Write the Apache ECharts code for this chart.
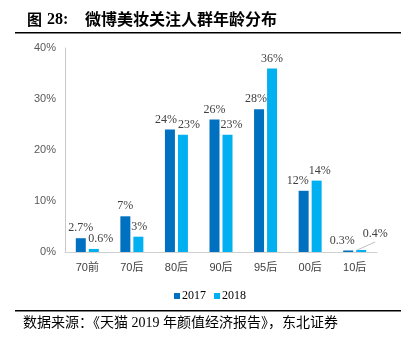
<!DOCTYPE html>
<html><head><meta charset="utf-8">
<script src="https://cdn.jsdelivr.net/npm/echarts@6/dist/echarts.min.js"></script>
<style>html,body{margin:0;padding:0;background:#fff}#c{width:401px;height:353px}</style>
</head><body><div id="c"></div>
<script>
const categories = ['70前','70后','80后','90后','95后','00后','10后'];
const values2017 = [2.7, 7, 24, 26, 28, 12, 0.3];
const values2018 = [0.6, 3, 23, 23, 36, 14, 0.4];
const labels2017 = ['2.7%','7%','24%','26%','28%','12%','0.3%'];
const labels2018 = ['0.6%','3%','23%','23%','36%','14%','0.4%'];
const yTicks = [0, 10, 20, 30, 40];

// label nudges (layout only)
const dx2017 = [0, 0, -4, 0, -3, -6, -6];
const dx2018 = [7, 1, 6, 4, 0, 3, 14];
const dy2018 = [0, 0, 0, 0, 0, 0, -6];

const chart = echarts.init(document.getElementById('c'), null, {renderer:'canvas'});
const labelFont = {fontFamily:'Liberation Serif', fontSize:12, color:'#404040'};
const d2017 = values2017.map((v,i)=>({value:v, label:{formatter:labels2017[i], offset:[dx2017[i],0]}}));
const d2018 = values2018.map((v,i)=>({value:v, label:{formatter:labels2018[i]}}));
const graphics = [
    {type:'text', left:27, top:12, style:{text:'图', fontSize:15, fontWeight:'bold', fontFamily:'Noto Sans CJK SC', fill:'#000'}},
    {type:'text', left:47, top:12, style:{text:'28:', fontSize:16, fontWeight:'bold', fontFamily:'Liberation Serif', fill:'#000'}},
    {type:'text', left:85, top:11, style:{text:'微博美妆关注人群年龄分布', fontSize:16, fontWeight:'bold', fontFamily:'Noto Sans CJK SC', fill:'#000'}},
    {type:'rect', shape:{x:15, y:32, width:386, height:1.5}, style:{fill:'#000'}},
    {type:'rect', shape:{x:15, y:310, width:386, height:1.5}, style:{fill:'#000'}},
    {type:'text', left:23, top:316, style:{text:'数据来源：《天猫 2019 年颜值经济报告》，东北证券', fontSize:14, fontFamily:'Liberation Serif, Noto Sans CJK SC', fill:'#000'}}
];
chart.setOption({
  animation:false,
  graphic:graphics,
  grid:{left:65, right:24, top:48, bottom:101},
  legend:{left:169, top:285, itemWidth:6, itemHeight:6, itemGap:8, icon:'rect',
    textStyle:{fontFamily:'Liberation Serif', fontSize:12, color:'#000', padding:[0,0,0,-3]},
    data:['2017','2018']},
  xAxis:{type:'category', data:categories,
    axisLine:{lineStyle:{color:'#d0d0d0'}}, axisTick:{show:false},
    axisLabel:{fontFamily:'Liberation Sans, Noto Sans CJK SC', fontSize:11, color:'#404040', margin:10}},
  yAxis:{type:'value', min:0, max:40, interval:10,
    axisLine:{show:true, lineStyle:{color:'#c8c8c8'}}, axisTick:{show:false}, splitLine:{show:false},
    axisLabel:{formatter:v=> yTicks.includes(v) ? v+'%' : '', fontFamily:'Liberation Sans', fontSize:11, color:'#595959', margin:9}},
  series:[
    {name:'2017', type:'bar', data:d2017, barWidth:10, barGap:'30%',
      itemStyle:{color:'#0070C0'}, label:Object.assign({show:true, position:'top', distance:4}, labelFont)},
    {name:'2018', type:'bar', data:d2018, barWidth:10,
      itemStyle:{color:'#00B0F0'}, label:Object.assign({show:true, position:'top', distance:4}, labelFont),
      labelLayout:(p)=> ({dx:dx2018[p.dataIndex], dy:dy2018[p.dataIndex]})}
  ]
});
// leader line for the last 2018 label, from the bar's own layout
try {
  const lay = chart.getModel().getSeriesByIndex(1).getData().getItemLayout(6);
  const topY = lay.y + Math.min(0, lay.height);
  const x0 = lay.x + 1, y0 = topY;
  const x1 = lay.x + lay.width/2 + dx2018[6], y1 = topY - 4 + dy2018[6] + 2;
  graphics.push({type:'line', shape:{x1:x0, y1:y0, x2:x1, y2:y1}, style:{stroke:'#bfbfbf', lineWidth:1}, z:10});
  chart.setOption({graphic:graphics});
} catch(e) {}
</script></body></html>
